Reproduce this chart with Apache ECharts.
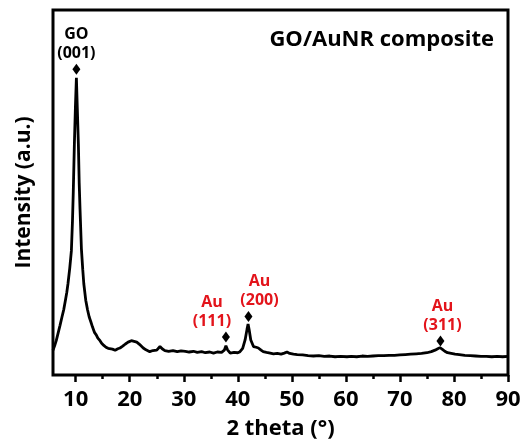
<!DOCTYPE html>
<html><head><meta charset="utf-8">
<script src="https://cdn.jsdelivr.net/npm/echarts@6/dist/echarts.min.js"></script>
<style>html,body{margin:0;padding:0;background:#fff}#c{width:522px;height:441px}</style>
</head><body><div id="c"></div>
<script>
const twoTheta = [5.8,6.1,6.4,6.7,7.1,7.46,7.8,8.1,8.35,8.57,8.9,9.2,9.4,9.55,9.76,9.95,10.13,10.3,10.5,10.65,10.8,11.06,11.3,11.5,11.86,12.2,12.5,12.8,13.1,13.5,13.8,14.1,14.5,14.8,15.2,15.6,16.0,16.3,16.8,17.3,17.8,18.2,18.7,19.2,19.7,20.3,20.8,21.3,21.8,22.5,23.0,23.7,24.3,25.0,25.6,26.0,26.5,27.2,28.0,28.8,29.5,30.3,31.0,31.8,32.5,33.3,34.0,34.8,35.5,36.2,37.0,37.5,37.8,38.1,38.6,39.3,40.0,40.4,40.9,41.35,41.7,41.9,42.1,42.4,42.9,43.4,43.8,44.3,44.7,45.3,46.0,46.6,47.3,48.0,48.6,49.1,49.6,50.3,51.0,52.0,53.0,54.0,55.0,56.0,57.0,58.0,59.0,60.2,61.0,62.0,63.0,64.0,65.0,66.0,67.0,68.0,69.0,70.0,71.0,72.0,73.0,74.0,75.0,75.8,76.5,77.0,77.4,77.8,78.3,78.8,79.5,80.2,81.0,82.0,83.0,84.0,85.0,86.0,87.0,88.0,89.0,90.0];
const intensity = [6.8,8.0,9.4,11.2,13.6,15.9,18.0,20.5,22.6,25.0,29.3,34.0,42.0,50.0,63.5,73.5,81.4,73.0,63.0,52.5,45.5,34.5,29.0,25.0,20.5,17.8,15.9,14.6,13.2,11.6,11.0,10.1,9.4,8.7,8.1,7.6,7.3,6.9,7.1,6.8,7.2,7.4,7.9,8.5,9.0,9.4,9.2,9.0,8.4,7.4,6.9,6.4,6.7,6.8,7.8,7.2,6.7,6.5,6.7,6.4,6.6,6.5,6.3,6.5,6.2,6.4,6.1,6.3,6.0,6.3,6.2,6.8,8.0,6.9,6.0,6.2,6.1,6.4,7.3,9.6,12.5,14.0,12.4,9.6,7.8,7.6,7.4,6.8,6.4,6.2,6.0,5.8,5.9,5.7,6.0,6.3,5.9,5.7,5.6,5.5,5.3,5.2,5.3,5.1,5.2,5.0,5.1,5.0,5.1,5.0,5.2,5.1,5.2,5.3,5.3,5.4,5.4,5.5,5.6,5.7,5.8,5.9,6.1,6.4,6.8,7.2,7.5,7.1,6.5,6.1,5.9,5.7,5.6,5.4,5.3,5.2,5.1,5.1,5.0,5.1,5.0,5.1];
const xTicks = [10,20,30,40,50,60,70,80,90];
const xMinorTicks = [15,25,35,45,55,65,75,85];
const peakTheta = [10.13, 37.8, 41.97, 77.5];
const peakMark = [83.8, 10.4, 16.0, 9.3];
const peakPhase = ['GO','Au','Au','Au'];
const peakHkl = ['(001)','(111)','(200)','(311)'];
const chartTitle = 'GO/AuNR composite';
const xName = '2 theta (°)';
const yName = 'Intensity (a.u.)';

const FONT = 'Open Sans';
const RED = '#e3141b';
const phaseColor = {GO:'#000', Au: RED};
const labelShift = [[0,0],[-14,0],[11,0],[2,0]];

const chart = echarts.init(document.getElementById('c'), null, {renderer:'canvas'});
const lineData = twoTheta.map((t,i)=>[t,intensity[i]]);
const peakData = peakTheta.map((t,i)=>({
  value:[t,peakMark[i]],
  label:{
    offset: labelShift[i],
    formatter: '{a|'+peakPhase[i]+'}\n{a|'+peakHkl[i]+'}',
    rich:{a:{color: phaseColor[peakPhase[i]], fontFamily:FONT, fontWeight:'bold', fontSize:16, lineHeight:19, align:'center'}}
  }
}));
chart.setOption({
  animation:false,
  backgroundColor:'#fff',
  title:{text:chartTitle, right:23, top:24, textStyle:{fontFamily:FONT, fontWeight:'bold', fontSize:22, color:'#000'}},
  grid:{left:53, right:14, top:10, bottom:66, show:true, borderColor:'#000', borderWidth:3, backgroundColor:'transparent', outerBoundsMode:'none', containLabel:false},
  xAxis:[{
    type:'value', min:5.8, max:90,
    axisLine:{show:false},
    axisTick:{show:true, customValues:xTicks, length:7, lineStyle:{color:'#000', width:2.5}},
    axisLabel:{customValues:xTicks, color:'#000', fontFamily:FONT, fontWeight:'bold', fontSize:22, margin:14},
    splitLine:{show:false},
    name:xName, nameLocation:'middle', nameGap:43,
    nameTextStyle:{color:'#000', fontFamily:FONT, fontWeight:'bold', fontSize:22}
  },{
    type:'value', min:5.8, max:90, position:'bottom', offset:0,
    axisLine:{show:false},
    axisTick:{show:true, customValues:xMinorTicks, length:4, lineStyle:{color:'#000', width:2.5}},
    axisLabel:{show:false}, splitLine:{show:false}
  }],
  yAxis:{
    type:'value', min:0, max:100,
    axisLine:{show:false}, axisTick:{show:false}, axisLabel:{show:false}, splitLine:{show:false},
    name:yName, nameLocation:'middle', nameGap:18, nameRotate:90,
    nameTextStyle:{color:'#000', fontFamily:FONT, fontWeight:'bold', fontSize:21}
  },
  series:[{
    type:'line', data:lineData, showSymbol:false, symbol:'none',
    lineStyle:{color:'#000', width:2.8}, z:2
  },{
    type:'scatter', data:peakData, symbol:'diamond', symbolSize:[8,11],
    itemStyle:{color:'#000', opacity:1},
    label:{show:true, position:'top', distance:1}, z:3
  }]
});
</script></body></html>
